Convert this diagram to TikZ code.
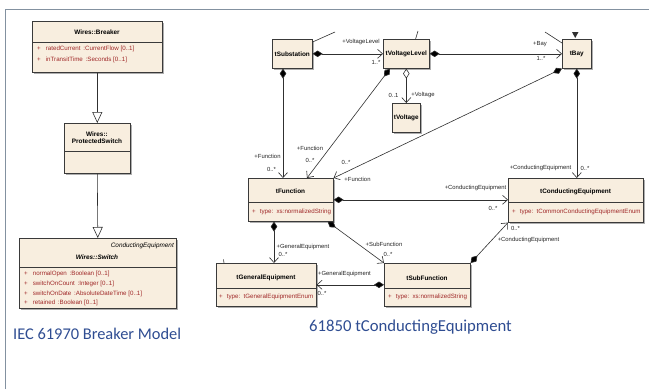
\documentclass[tikz,border=0pt]{standalone}
\usepackage{fontspec}
\setmainfont{Liberation Sans}
\newfontfamily\capfont{Carlito}
\usetikzlibrary{arrows.meta,shadows,calc}
\definecolor{boxfill}{HTML}{F8EEDF}
\definecolor{boxline}{HTML}{3A3A3A}
\definecolor{linecol}{HTML}{303030}
\definecolor{attrred}{HTML}{A02828}
\definecolor{capblue}{HTML}{2F4D92}
\definecolor{framecol}{HTML}{8391A0}
\tikzset{
  umlbox/.style={draw=boxline, fill=boxfill, line width=0.6pt, inner sep=0pt, anchor=north west,
    drop shadow={shadow xshift=1.6pt, shadow yshift=-1.6pt, fill=black!45, opacity=0.7}},
  ttl/.style={font=\fontsize{6.4}{7}\selectfont\bfseries, inner sep=0pt},
  attr/.style={font=\fontsize{6.2}{7}\selectfont, text=attrred, inner sep=0pt, anchor=west},
  lbl/.style={font=\fontsize{5.9}{6.5}\selectfont, text=black!85, inner sep=0pt},
  divider/.style={draw=boxline, line width=0.5pt},
  comp/.style={draw=linecol, line width=0.6pt,
    {Diamond[length=10pt,width=6.5pt,fill=black]}-{Straight Barb[length=5pt,width=9pt,line width=0.6pt]}},
  aggr/.style={draw=linecol, line width=0.6pt,
    {Diamond[open,length=10pt,width=6.5pt,fill=white]}-{Straight Barb[length=5pt,width=9pt,line width=0.6pt]}},
  gen/.style={draw=linecol, line width=0.6pt, -{Triangle[open,length=11pt,width=10pt,fill=white]}},
  stub/.style={draw=linecol, line width=0.6pt},
  caption/.style={text=capblue, inner sep=0pt, anchor=west}
}
\begin{document}
\begin{tikzpicture}[x=1pt,y=-1pt]
\useasboundingbox (0,0) rectangle (649,389);
\fill[white] (0,0) rectangle (649,389);
\draw[framecol, line width=0.9pt] (5,389) -- (5,9) -- (649,9);

% ---------------- Left panel ----------------
\node[umlbox, minimum width=130pt, minimum height=51pt] (brk) at (32,21) {};
\node[ttl] (brkt) at (97,32.5) {Wires::Breaker};
\draw[divider] (32,42) -- (162,42);
\node[attr] (brka1) at (37,48.5) {+\hspace{5pt}ratedCurrent \,:CurrentFlow [0..1]};
\node[attr] (brka2) at (37,59.5) {+\hspace{5pt}inTransitTime \,:Seconds [0..1]};

\node[umlbox, minimum width=66pt, minimum height=50pt] (ps) at (64,123) {};
\node[ttl, align=center] (pst) at (97,137.5) {Wires::\\[-0.5pt]ProtectedSwitch};
\draw[divider] (64,151) -- (130,151);

\node[umlbox, minimum width=157pt, minimum height=70pt] (sw) at (19,238) {};
\node[ttl, font=\fontsize{6.4}{7}\selectfont\itshape, anchor=east] (swst) at (174,246) {ConductingEquipment};
\node[ttl, font=\fontsize{6.4}{7}\selectfont\bfseries\itshape] (swt) at (97,257) {Wires::Switch};
\draw[divider] (19,267) -- (176,267);
\node[attr] (swa1) at (24,274) {+\hspace{5pt}normalOpen \,:Boolean [0..1]};
\node[attr] (swa2) at (24,284) {+\hspace{5pt}switchOnCount \,:Integer [0..1]};
\node[attr] (swa3) at (24,293.5) {+\hspace{5pt}switchOnDate \,:AbsoluteDateTime [0..1]};
\node[attr] (swa4) at (24,303) {+\hspace{5pt}retained \,:Boolean [0..1]};

\draw[gen] (brk.south) -- (ps.north);
\draw[gen] (ps.south) -- (sw.north);

\node[caption, font=\capfont\fontsize{16.4}{18}\selectfont] (cap1) at (13,334) {IEC 61970 Breaker Model};

% ---------------- Right panel ----------------
\node[umlbox, minimum width=40pt, minimum height=29pt] (sub) at (272,39) {};
\node[ttl] at (sub.center) {tSubstation};
\node[umlbox, minimum width=46pt, minimum height=29pt] (vl) at (383,39) {};
\node[ttl] at (vl.center) {tVoltageLevel};
\node[umlbox, minimum width=28pt, minimum height=29pt] (volt) at (392,103) {};
\node[ttl] at (volt.center) {tVoltage};
\node[umlbox, minimum width=29pt, minimum height=29pt] (bay) at (562,39) {};
\node[ttl] at (bay.center) {tBay};

\node[umlbox, minimum width=85pt, minimum height=43pt] (fun) at (248,178) {};
\node[ttl] (funt) at (290.5,191) {tFunction};
\draw[divider] (248,202) -- (333,202);
\node[attr] (funa) at (252,211.5) {+\hspace{4pt}type:\, xs:normalizedString};

\node[umlbox, minimum width=135pt, minimum height=44pt] (ce) at (508,178) {};
\node[ttl] (cet) at (575.5,192) {tConductingEquipment};
\draw[divider] (508,202) -- (643,202);
\node[attr] (cea) at (512,211.5) {+\hspace{4pt}type:\, tCommonConductingEquipmentEnum};

\node[umlbox, minimum width=100pt, minimum height=43pt] (ge) at (216,263) {};
\node[ttl] (get) at (266,278) {tGeneralEquipment};
\draw[divider] (216,288) -- (316,288);
\node[attr] (gea) at (219,297) {+\hspace{4pt}type:\, tGeneralEquipmentEnum};

\node[umlbox, minimum width=86pt, minimum height=43pt] (sf) at (384,263) {};
\node[ttl] (sft) at (427,278) {tSubFunction};
\draw[divider] (384,288) -- (470,288);
\node[attr] (sfa) at (388,297) {+\hspace{4pt}type:\, xs:normalizedString};

% connectors
\draw[comp] (sub.east) -- (vl.west);
\draw[comp] (vl.east) -- (bay.west);
\draw[aggr] (vl.south) -- (volt.north);
\draw[comp] ([xshift=11pt]sub.south west) -- ([xshift=11pt]sub.south west |- fun.north);
\draw[comp] ([xshift=7pt]vl.south west) -- ([xshift=59pt]fun.north west);
\draw[comp] (bay.south west) -- (fun.north east);
\draw[comp] (bay.south) -- (bay.south |- ce.north);
\draw[comp] (fun.east) -- (fun.east -| ce.west);
\draw[comp] ([xshift=26pt]fun.south west) -- ([xshift=26pt]fun.south west |- ge.north);
\draw[comp] ([xshift=-6pt]fun.south east) -- (sf.north west);
\draw[comp] (sf.west) -- (ge.east);
\draw[comp] (sf.north east) -- (ce.south west);

% stubs of connectors leaving the view
\coordinate (s1) at (335,32);
\coordinate (s2) at (418,31);
\coordinate (s3) at (545,32);
\coordinate (s4) at (223.5,259.5);
\draw[stub] ([yshift=-3pt]sub.north east) -- (s1);
\draw[stub] ([xshift=-14pt]vl.north east) -- (s2);
\draw[stub] (s3) -- ([yshift=-4pt]bay.north west);
\draw[stub] ([xshift=8pt]ge.north west) -- (s4);
\fill[linecol] (572,32) -- (578.5,32) -- (575.2,38) -- cycle;

% labels
\node[lbl] (l1a) at (361,42) {+VoltageLevel};
\node[lbl] (l1b) at (376,62) {1..*};
\node[lbl] (l2a) at (540,44.5) {+Bay};
\node[lbl] (l2b) at (541,58.5) {1..*};
\node[lbl] (l3a) at (393.5,95) {0..1};
\node[lbl] (l3b) at (423,95) {+Voltage};
\node[lbl] (l4a) at (267.5,156) {+Function};
\node[lbl] (l4b) at (271.5,169) {0..*};
\node[lbl] (l5a) at (310,148) {+Function};
\node[lbl] (l5b) at (310,160) {0..*};
\node[lbl] (l6a) at (346,162) {0..*};
\node[lbl] (l6b) at (357.5,179) {+Function};
\node[lbl] (l7a) at (540.5,168) {+ConductingEquipment};
\node[lbl] (l7b) at (585,168) {0..*};
\node[lbl] (l8a) at (475.5,188) {+ConductingEquipment};
\node[lbl] (l8b) at (493,208) {0..*};
\node[lbl] (l9a) at (303,246.5) {+GeneralEquipment};
\node[lbl] (l9b) at (283,254.5) {0..*};
\node[lbl] (l10a) at (384,244) {+SubFunction};
\node[lbl] (l10b) at (388,254) {0..*};
\node[lbl] (l11a) at (344.5,274) {+GeneralEquipment};
\node[lbl] (l11b) at (322,293) {0..*};
\node[lbl] (l12a) at (515.5,228) {0..*};
\node[lbl] (l12b) at (528.5,240) {+ConductingEquipment};

\node[caption, font=\capfont\fontsize{16.7}{18}\selectfont] (cap2) at (309,327.5) {61850 tConductingEquipment};
\end{tikzpicture}
\end{document}
